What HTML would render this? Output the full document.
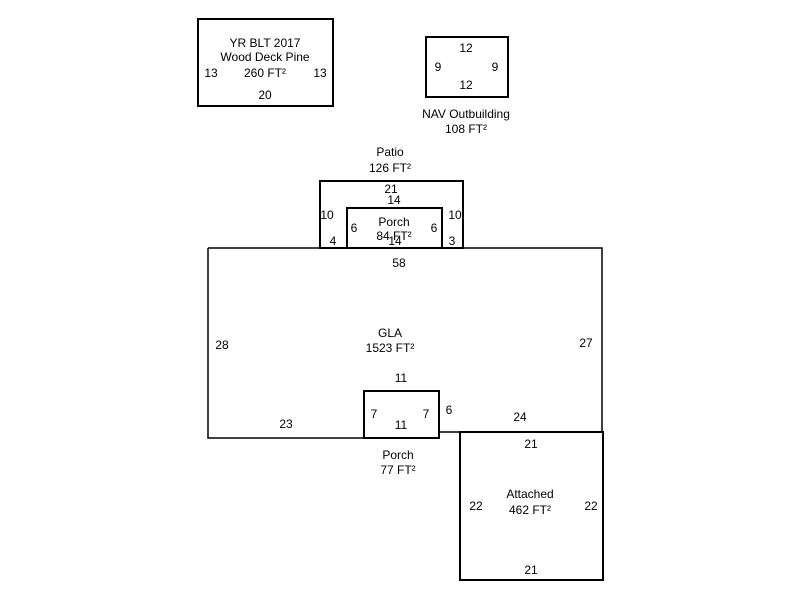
<!DOCTYPE html>
<html><head><style>
html,body{margin:0;padding:0;background:#fff;}
svg text{font-family:"Liberation Sans",Arial,sans-serif;font-size:12px;fill:#000;text-anchor:middle;}
</style></head><body>
<svg width="800" height="600" viewBox="0 0 800 600" xmlns="http://www.w3.org/2000/svg">
<g fill="none" stroke="#000" stroke-width="2">
<rect x="198" y="19" width="135" height="87"/>
<rect x="426" y="37" width="82" height="60"/>
<rect x="320" y="181" width="143" height="67"/>
<rect x="347" y="208" width="95" height="40"/>
<polyline points="208,248 602,248 602,432 439,432 439,438 208,438 208,248" stroke-width="1.5"/>
<rect x="364" y="391" width="75" height="47"/>
<rect x="460" y="432" width="143" height="148"/>
</g>
<text x="265" y="47">YR BLT 2017</text>
<text x="265" y="61">Wood Deck Pine</text>
<text x="211" y="77">13</text>
<text x="265" y="77">260 FT²</text>
<text x="320" y="77">13</text>
<text x="265" y="99">20</text>
<text x="466" y="52">12</text>
<text x="438" y="71">9</text>
<text x="495" y="71">9</text>
<text x="466" y="89">12</text>
<text x="466" y="118">NAV Outbuilding</text>
<text x="466" y="133">108 FT²</text>
<text x="390" y="156">Patio</text>
<text x="390" y="172">126 FT²</text>
<text x="391" y="193">21</text>
<text x="394" y="204">14</text>
<text x="327" y="219">10</text>
<text x="455" y="219">10</text>
<text x="394" y="226">Porch</text>
<text x="354" y="232">6</text>
<text x="434" y="232">6</text>
<text x="394" y="240">84 FT²</text>
<text x="395" y="245">14</text>
<text x="333" y="245">4</text>
<text x="452" y="245">3</text>
<text x="399" y="267">58</text>
<text x="390" y="337">GLA</text>
<text x="390" y="352">1523 FT²</text>
<text x="222" y="349">28</text>
<text x="586" y="347">27</text>
<text x="401" y="382">11</text>
<text x="374" y="418">7</text>
<text x="426" y="418">7</text>
<text x="449" y="414">6</text>
<text x="520" y="421">24</text>
<text x="401" y="429">11</text>
<text x="286" y="428">23</text>
<text x="531" y="448">21</text>
<text x="398" y="459">Porch</text>
<text x="398" y="474">77 FT²</text>
<text x="530" y="498">Attached</text>
<text x="530" y="514">462 FT²</text>
<text x="476" y="510">22</text>
<text x="591" y="510">22</text>
<text x="531" y="574">21</text>
</svg>
</body></html>
